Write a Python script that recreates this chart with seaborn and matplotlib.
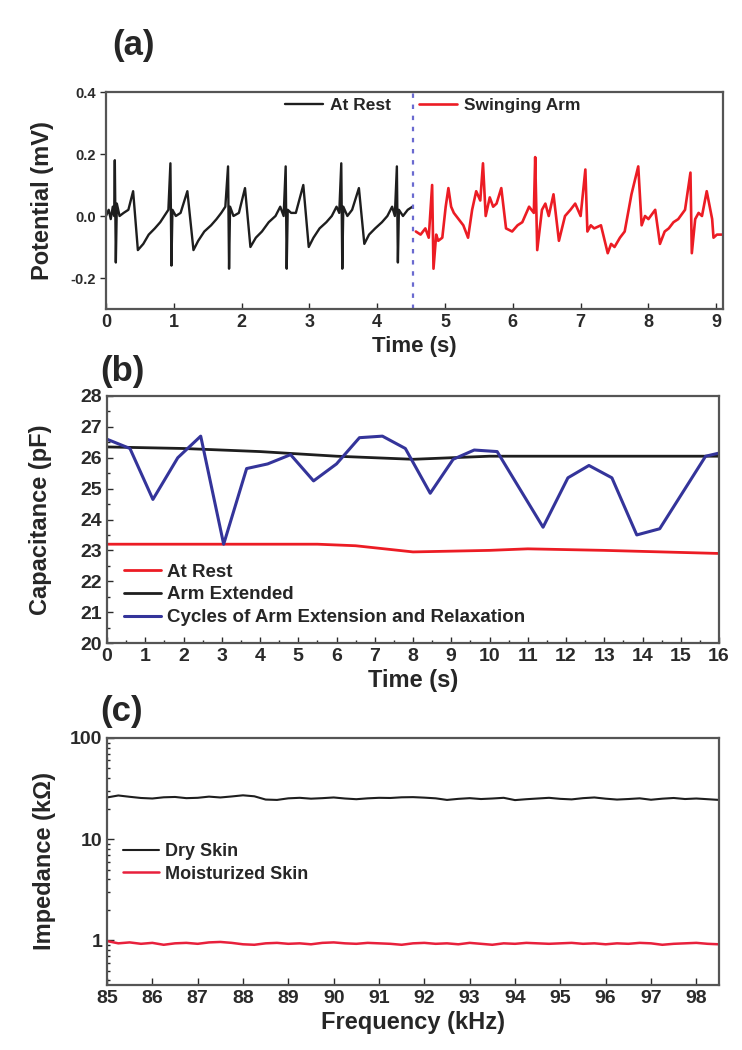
import numpy as np
import matplotlib
matplotlib.use("Agg")
import matplotlib.pyplot as plt
import seaborn as sns

# ---------------- data ----------------
# (a) ECG-like potential, at rest (black) and swinging arm (red)
rest_t = [0.00, 0.04, 0.07, 0.10, 0.12, 0.13, 0.145, 0.16, 0.20, 0.26, 0.33, 0.40, 0.47,
          0.55, 0.63, 0.72, 0.80, 0.86, 0.92, 0.95, 0.965, 0.98, 1.03, 1.10, 1.20, 1.29,
          1.36, 1.45, 1.55, 1.63, 1.70, 1.76, 1.80, 1.815, 1.83, 1.88, 1.96, 2.05, 2.13,
          2.21, 2.30, 2.40, 2.50, 2.57, 2.62, 2.65, 2.665, 2.68, 2.73, 2.80, 2.91, 2.99,
          3.06, 3.15, 3.25, 3.33, 3.40, 3.44, 3.47, 3.485, 3.50, 3.56, 3.63, 3.73, 3.81,
          3.88, 3.97, 4.07, 4.15, 4.22, 4.26, 4.29, 4.305, 4.32, 4.38, 4.45, 4.52]
rest_v = [0.00, 0.02, -0.01, 0.03, 0.00, 0.18, -0.15, 0.04, 0.00, 0.01, 0.02, 0.08, -0.11,
          -0.09, -0.06, -0.04, -0.02, 0.00, 0.02, 0.17, -0.16, 0.02, 0.00, 0.01, 0.08, -0.11,
          -0.08, -0.05, -0.03, -0.01, 0.01, 0.03, 0.16, -0.17, 0.03, 0.00, 0.01, 0.09, -0.10,
          -0.07, -0.05, -0.02, 0.00, 0.03, 0.00, 0.16, -0.17, 0.02, 0.01, 0.01, 0.10, -0.10,
          -0.07, -0.04, -0.02, 0.00, 0.03, 0.01, 0.17, -0.17, 0.03, 0.00, 0.02, 0.09, -0.09,
          -0.06, -0.04, -0.02, 0.00, 0.03, 0.00, 0.16, -0.15, 0.02, 0.00, 0.02, 0.03]

swing_t = [4.57, 4.64, 4.71, 4.76, 4.81, 4.83, 4.87, 4.90, 4.96, 5.01, 5.05, 5.09, 5.13,
           5.20, 5.27, 5.34, 5.40, 5.46, 5.52, 5.56, 5.60, 5.66, 5.71, 5.76, 5.83, 5.90,
           5.99, 6.07, 6.14, 6.24, 6.31, 6.33, 6.36, 6.43, 6.48, 6.53, 6.60, 6.68, 6.77,
           6.85, 6.92, 7.00, 7.07, 7.10, 7.15, 7.20, 7.30, 7.40, 7.45, 7.50, 7.58, 7.65,
           7.75, 7.85, 7.90, 7.95, 8.00, 8.10, 8.17, 8.24, 8.30, 8.37, 8.44, 8.54, 8.62,
           8.64, 8.69, 8.74, 8.79, 8.86, 8.94, 8.96, 9.01, 9.08]
swing_v = [-0.05, -0.06, -0.04, -0.07, 0.10, -0.17, -0.06, -0.08, -0.07, 0.03, 0.09, 0.03,
           0.01, -0.01, -0.03, -0.07, 0.02, 0.08, 0.05, 0.17, 0.00, 0.06, 0.03, 0.04, 0.09,
           -0.04, -0.05, -0.03, -0.02, 0.03, 0.01, 0.19, -0.11, 0.02, 0.04, 0.00, 0.07,
           -0.08, 0.00, 0.02, 0.04, 0.00, 0.15, -0.05, -0.03, -0.04, -0.03, -0.12, -0.09,
           -0.10, -0.07, -0.05, 0.07, 0.16, -0.03, 0.00, -0.01, 0.02, -0.09, -0.05, -0.04,
           -0.02, -0.01, 0.02, 0.14, -0.12, -0.01, 0.01, 0.00, 0.08, -0.01, -0.07, -0.06, -0.06]
switch_t = 4.53

# (b) capacitance vs time
cap_rest_t = [0, 3, 5.5, 6.5, 8, 10, 11, 13, 16]
cap_rest = [23.2, 23.2, 23.2, 23.15, 22.95, 23.0, 23.05, 23.0, 22.9]
cap_ext_t = [0, 2, 4, 6, 8, 10, 12, 14, 16]
cap_ext = [26.35, 26.3, 26.2, 26.05, 25.95, 26.05, 26.05, 26.05, 26.05]
cap_cyc_t = [0.0, 0.6, 1.2, 1.85, 2.45, 3.05, 3.65, 4.2, 4.8, 5.4, 6.0, 6.6, 7.2, 7.8,
             8.45, 9.05, 9.6, 10.2, 11.4, 12.05, 12.6, 13.2, 13.85, 14.45, 15.65, 16.0]
cap_cyc = [26.6, 26.3, 24.65, 26.0, 26.7, 23.2, 25.65, 25.8, 26.1, 25.25, 25.8, 26.65,
           26.7, 26.3, 24.85, 25.95, 26.25, 26.2, 23.75, 25.35, 25.75, 25.35, 23.5, 23.7,
           26.05, 26.15]

# (c) impedance vs frequency
dry = [25.8, 27.0, 26.2, 25.5, 25.2, 25.9, 26.1, 25.4, 25.6, 26.3, 25.8, 26.4, 27.1, 26.5,
       24.6, 24.4, 25.3, 25.6, 25.1, 25.4, 25.8, 25.2, 24.8, 25.3, 25.6, 25.5, 25.9, 26.0,
       25.7, 25.3, 24.4, 25.0, 25.4, 24.9, 25.2, 25.6, 24.3, 24.8, 25.2, 25.6, 25.0, 24.7,
       25.4, 25.8, 25.1, 24.6, 24.9, 25.3, 24.5, 25.1, 25.5, 24.9, 25.2, 24.8, 24.4]
moist = [0.98, 0.93, 0.95, 0.92, 0.94, 0.90, 0.93, 0.94, 0.92, 0.95, 0.96, 0.94, 0.91, 0.90,
         0.93, 0.94, 0.92, 0.93, 0.91, 0.94, 0.95, 0.93, 0.92, 0.94, 0.93, 0.92, 0.90, 0.93,
         0.94, 0.92, 0.93, 0.91, 0.94, 0.92, 0.90, 0.93, 0.92, 0.94, 0.93, 0.92, 0.93, 0.94,
         0.92, 0.93, 0.91, 0.93, 0.92, 0.94, 0.93, 0.90, 0.92, 0.93, 0.94, 0.92, 0.91]
freq = np.linspace(85, 98.5, len(dry))

# ---------------- style ----------------
sns.set_theme(style="ticks")
plt.rcParams["font.family"] = ["Liberation Sans", "DejaVu Sans"]
plt.rcParams["font.weight"] = "bold"
plt.rcParams["axes.labelweight"] = "bold"

SPINE = "#555555"
BLACK = "#1e1e1e"
RED = "#ec1c24"
BLUE = "#34349a"

fig = plt.figure(figsize=(7.42, 10.5), dpi=100)
W, H = 742, 1050


def add_ax(l, t, r, b):
    return fig.add_axes([l / W, 1 - b / H, (r - l) / W, (b - t) / H])


def style(ax):
    for s in ax.spines.values():
        s.set_color(SPINE)
        s.set_linewidth(1.6)
    ax.tick_params(colors="#2a2a2a", width=1.0)


# ---------------- (a) ----------------
ax1 = add_ax(106, 92, 723, 309)
sns.lineplot(x=rest_t, y=rest_v, ax=ax1, color=BLACK, lw=1.7, label="At Rest",
             sort=False, estimator=None)
sns.lineplot(x=swing_t, y=swing_v, ax=ax1, color=RED, lw=1.9, label="Swinging Arm",
             sort=False, estimator=None)
ax1.axvline(switch_t, color="#6a6ad0", ls=(0, (2, 3)), lw=1.6)
ax1.set_xlim(0, 9.1)
ax1.set_ylim(-0.3, 0.4)
ax1.set_xticks(range(10))
ax1.set_yticks([-0.2, 0.0, 0.2, 0.4])
ax1.set_yticklabels(["-0.2", "0.0", "0.2", "0.4"])
ax1.tick_params(axis="y", direction="out", length=4, labelsize=10.5)
ax1.tick_params(axis="x", direction="in", length=4, labelsize=13)
ax1.set_xlabel("Time (s)", fontsize=16, fontweight="bold", labelpad=4)
ax1.set_ylabel("Potential (mV)", fontsize=17, fontweight="bold")
ax1.yaxis.set_label_coords(-0.085, 0.5)
style(ax1)
ax1.legend(loc="upper center", bbox_to_anchor=(0.53, 1.045), ncol=2, frameon=False,
           prop={"weight": "bold", "size": 12.5}, handlelength=2.2, columnspacing=1.6,
           handletextpad=0.4)
fig.text(112 / W, 1 - 45 / H, "(a)", fontsize=25, fontweight="bold", va="center")

# ---------------- (b) ----------------
ax2 = add_ax(107, 396, 719, 643)
sns.lineplot(x=cap_rest_t, y=cap_rest, ax=ax2, color=RED, lw=2.0, label="At Rest")
sns.lineplot(x=cap_ext_t, y=cap_ext, ax=ax2, color=BLACK, lw=2.0, label="Arm Extended")
sns.lineplot(x=cap_cyc_t, y=cap_cyc, ax=ax2, color=BLUE, lw=2.2,
             label="Cycles of Arm Extension and Relaxation")
ax2.set_xlim(0, 16)
ax2.set_ylim(20, 28)
ax2.set_xticks(range(17))
ax2.set_yticks(range(20, 29))
ax2.set_xticks(np.arange(0.5, 16, 1), minor=True)
ax2.set_yticks(np.arange(20.5, 28, 1), minor=True)
ax2.tick_params(which="major", direction="in", length=4, labelsize=14)
ax2.tick_params(which="minor", direction="in", length=2)
ax2.set_xlabel("Time (s)", fontsize=17, fontweight="bold", labelpad=3)
ax2.set_ylabel("Capacitance (pF)", fontsize=17, fontweight="bold")
ax2.yaxis.set_label_coords(-0.09, 0.5)
style(ax2)
ax2.legend(loc="lower left", frameon=False, prop={"weight": "bold", "size": 13.5},
           handlelength=2.0, handletextpad=0.3, labelspacing=0.3, borderaxespad=0.5)
fig.text(100 / W, 1 - 372 / H, "(b)", fontsize=25, fontweight="bold", va="center")

# ---------------- (c) ----------------
ax3 = add_ax(107, 738, 719, 985)
sns.lineplot(x=freq, y=dry, ax=ax3, color=BLACK, lw=1.5, label="Dry Skin")
sns.lineplot(x=freq, y=moist, ax=ax3, color="#e8203c", lw=1.8, label="Moisturized Skin")
ax3.set_yscale("log")
ax3.set_xlim(85, 98.5)
ax3.set_ylim(0.36, 100)
ax3.set_xticks(range(85, 99))
ax3.set_yticks([1, 10, 100])
ax3.set_yticklabels(["1", "10", "100"])
ax3.tick_params(which="major", direction="in", length=5, labelsize=14)
ax3.tick_params(which="minor", direction="in", length=2.5)
ax3.set_xlabel("Frequency (kHz)", fontsize=17, fontweight="bold", labelpad=3)
ax3.set_ylabel("Impedance (k\u03a9)", fontsize=17, fontweight="bold")
ax3.yaxis.set_label_coords(-0.083, 0.5)
style(ax3)
ax3.legend(loc="upper left", bbox_to_anchor=(0.0, 0.64), frameon=False,
           prop={"weight": "bold", "size": 13}, handlelength=2.0, handletextpad=0.3,
           labelspacing=0.3)
fig.text(100 / W, 1 - 711 / H, "(c)", fontsize=25, fontweight="bold", va="center")

fig.savefig("out.png", dpi=100)
